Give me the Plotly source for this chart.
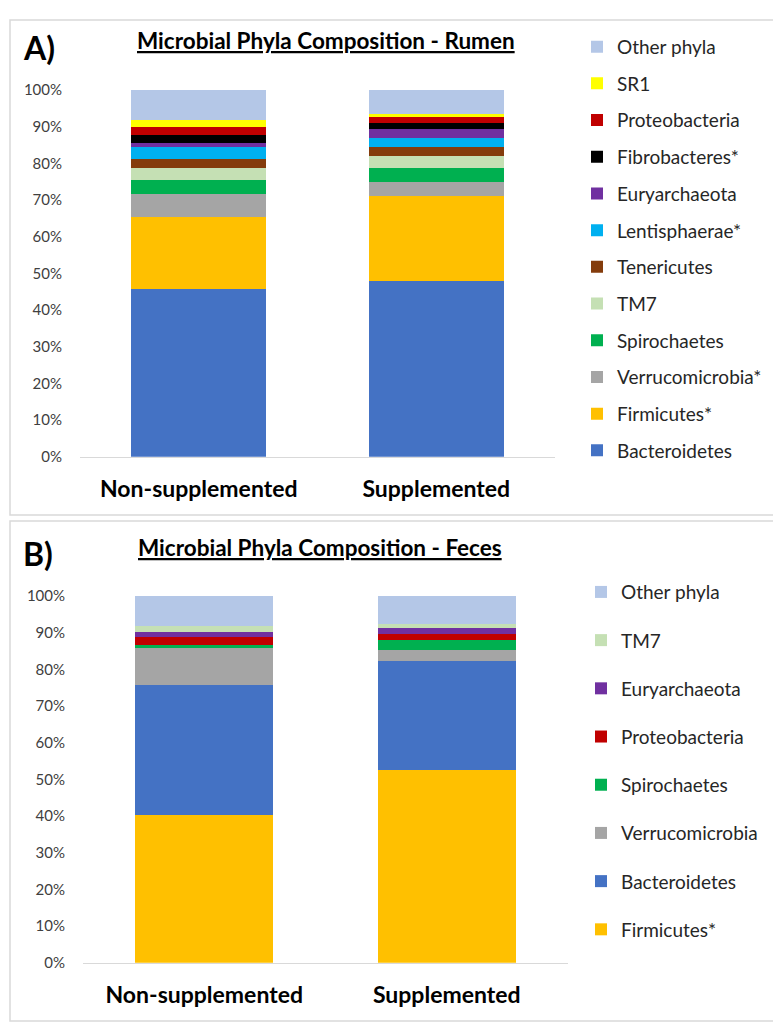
import plotly.graph_objects as go

W, H = 781, 1025

groups = ["Non-supplemented", "Supplemented"]

rumen_phyla = ["Bacteroidetes", "Firmicutes*", "Verrucomicrobia*", "Spirochaetes", "TM7",
               "Tenericutes", "Lentisphaerae*", "Euryarchaeota", "Fibrobacteres*",
               "Proteobacteria", "SR1", "Other phyla"]
rumen_non = [45.8, 19.6, 6.2, 3.8, 3.4, 2.3, 3.4, 1.1, 2.2, 2.2, 1.8, 8.2]
rumen_sup = [48.0, 23.1, 3.9, 3.8, 3.3, 2.3, 2.4, 2.7, 1.6, 1.8, 0.5, 6.6]

feces_phyla = ["Firmicutes*", "Bacteroidetes", "Verrucomicrobia", "Spirochaetes",
               "Proteobacteria", "Euryarchaeota", "TM7", "Other phyla"]
feces_non = [40.4, 35.2, 10.1, 1.0, 2.1, 1.3, 1.7, 8.2]
feces_sup = [52.5, 29.7, 3.0, 2.7, 1.6, 1.7, 1.1, 7.7]

y_ticks = list(range(0, 101, 10))

colors = {
    "Bacteroidetes": "#4472C4",
    "Firmicutes": "#FFC000",
    "Verrucomicrobia": "#A5A5A5",
    "Spirochaetes": "#00B050",
    "TM7": "#C5E0B4",
    "Tenericutes": "#843C0C",
    "Lentisphaerae": "#00B0F0",
    "Euryarchaeota": "#7030A0",
    "Fibrobacteres": "#000000",
    "Proteobacteria": "#C00000",
    "SR1": "#FFFF00",
    "Other phyla": "#B4C7E7",
}


def px(x):
    return x / W


def py(y):
    return 1 - y / H


FONT = "Lato"
TXT = "#262626"

fig = go.Figure()

for i, name in enumerate(rumen_phyla):
    fig.add_trace(go.Bar(
        x=groups, y=[rumen_non[i], rumen_sup[i]], name=name,
        marker=dict(color=colors[name.rstrip("*")], line=dict(width=0)),
        xaxis="x", yaxis="y", legend="legend", legendgroup="a" + str(i),
        legendrank=1000 - i,
    ))

for i, name in enumerate(feces_phyla):
    fig.add_trace(go.Bar(
        x=groups, y=[feces_non[i], feces_sup[i]], name=name,
        marker=dict(color=colors[name.rstrip("*")], line=dict(width=0)),
        xaxis="x2", yaxis="y2", legend="legend2", legendgroup="b" + str(i),
        legendrank=1000 - i,
    ))

yax = dict(range=[0, 100], tickvals=y_ticks, ticktext=[f"{v}%" for v in y_ticks],
           showgrid=False, zeroline=False, showline=False,
           ticks="outside", ticklen=14, tickcolor="rgba(0,0,0,0)",
           tickfont=dict(family=FONT, size=15, color="#404040"), fixedrange=True)
xax = dict(showgrid=False, zeroline=False, showline=True, linecolor="#D9D9D9", linewidth=1,
           ticks="outside", ticklen=12, tickcolor="rgba(0,0,0,0)",
           tickfont=dict(family=FONT, size=23, color="#000000", weight="bold"))

legend_common = dict(font=dict(family=FONT, size=19, color=TXT), traceorder="grouped",
                     bgcolor="rgba(0,0,0,0)", xanchor="left", yanchor="top",
                     itemclick=False, itemdoubleclick=False)

fig.update_layout(
    width=W, height=H, margin=dict(l=0, r=0, t=0, b=0),
    paper_bgcolor="white", plot_bgcolor="white",
    barmode="stack", bargap=0.43,
    showlegend=True,
    xaxis=dict(domain=[px(72), px(547)], anchor="y", **xax),
    yaxis=dict(domain=[py(446.6), py(73.3)], anchor="x", **yax),
    xaxis2=dict(domain=[px(75), px(560)], anchor="y2", **xax),
    yaxis2=dict(domain=[py(961.7), py(588.3)], anchor="x2", **yax),
    legend=dict(x=px(569), y=py(10), tracegroupgap=9, **legend_common),
    legend2=dict(x=px(573), y=py(565), tracegroupgap=20.5, **legend_common),
    shapes=[
        dict(type="rect", xref="paper", yref="paper", x0=px(2), x1=px(778), y0=py(506), y1=py(2),
             line=dict(color="#D9D9D9", width=1.5), fillcolor="rgba(0,0,0,0)"),
        dict(type="rect", xref="paper", yref="paper", x0=px(2), x1=px(778), y0=py(1021), y1=py(512),
             line=dict(color="#D9D9D9", width=1.5), fillcolor="rgba(0,0,0,0)"),
    ],
    annotations=[
        dict(text="<b>A)</b>", xref="paper", yref="paper", x=px(13), y=py(30), xanchor="left",
             yanchor="middle", showarrow=False, font=dict(family=FONT, size=32, color="#000000")),
        dict(text="<b><u>Microbial Phyla Composition - Rumen</u></b>", xref="paper", yref="paper",
             x=px(318), y=py(23), xanchor="center", yanchor="middle", showarrow=False,
             font=dict(family=FONT, size=22.5, color="#000000")),
        dict(text="<b>B)</b>", xref="paper", yref="paper", x=px(13), y=py(545), xanchor="left",
             yanchor="middle", showarrow=False, font=dict(family=FONT, size=32, color="#000000")),
        dict(text="<b><u>Microbial Phyla Composition - Feces</u></b>", xref="paper", yref="paper",
             x=px(312), y=py(539), xanchor="center", yanchor="middle", showarrow=False,
             font=dict(family=FONT, size=22.5, color="#000000")),
    ],
)

fig.write_html("out.html")
